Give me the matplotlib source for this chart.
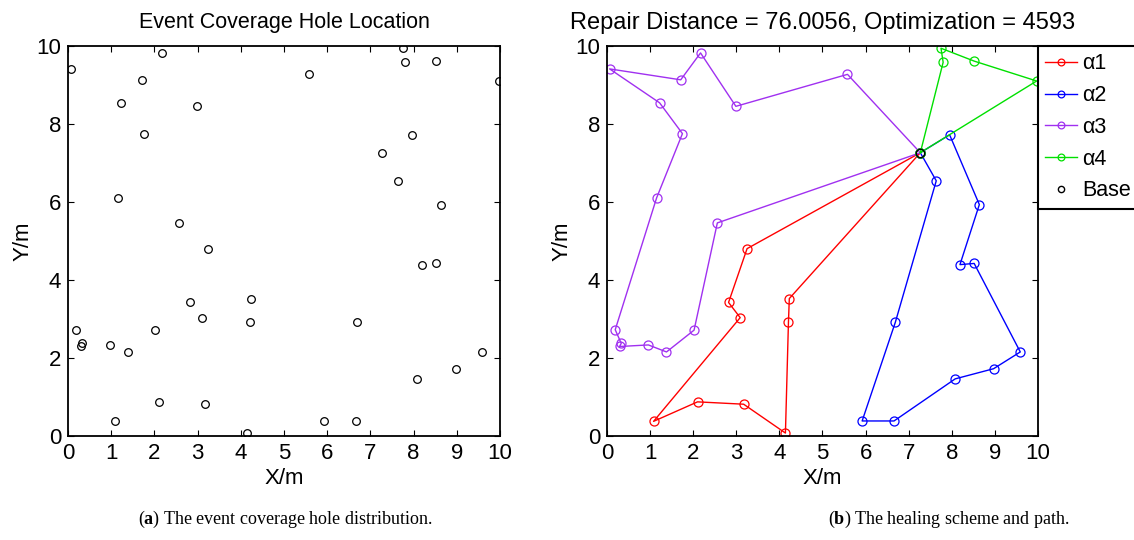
import matplotlib
matplotlib.use("Agg")
import matplotlib.pyplot as plt

plt.rcParams['font.family'] = ['Liberation Sans', 'DejaVu Sans']
plt.rcParams['mathtext.fontset'] = 'custom'
plt.rcParams['mathtext.rm'] = 'Liberation Serif'
plt.rcParams['mathtext.bf'] = 'Liberation Serif:bold'

# base station
base = (7.27, 7.26)

# healing paths (without the base at the ends)
a1_x = [3.25, 2.82, 3.09, 1.08, 2.10, 3.17, 4.14, 4.21, 4.23]
a1_y = [4.80, 3.42, 3.03, 0.37, 0.87, 0.81, 0.07, 2.91, 3.52]

a2_x = [7.64, 6.69, 5.92, 6.66, 8.08, 8.97, 9.59, 8.52, 8.19, 8.64, 7.95]
a2_y = [6.54, 2.91, 0.38, 0.38, 1.46, 1.72, 2.15, 4.42, 4.39, 5.93, 7.72]

a3_x = [5.58, 2.99, 2.17, 1.71, 0.06, 1.22, 1.75, 1.15, 0.19, 0.33, 0.29, 0.96, 1.38, 2.02, 2.56]
a3_y = [9.27, 8.45, 9.82, 9.13, 9.41, 8.54, 7.75, 6.10, 2.72, 2.37, 2.29, 2.33, 2.15, 2.71, 5.46]

a4_x = [7.80, 7.75, 8.52, 9.97]
a4_y = [9.58, 9.94, 9.61, 9.10]

labels = ["α1", "α2", "α3", "α4"]
colors = ["#ff0000", "#0000ff", "#a030f0", "#00e000"]
paths = [(a1_x, a1_y), (a2_x, a2_y), (a3_x, a3_y), (a4_x, a4_y)]

# all hole locations (left panel)
holes_x = a1_x + a2_x + a3_x + a4_x + [base[0]]
holes_y = a1_y + a2_y + a3_y + a4_y + [base[1]]

fig = plt.figure(figsize=(11.34, 5.4), dpi=100)
ax1 = fig.add_axes([0.060, 0.193, 0.381, 0.722])
ax2 = fig.add_axes([0.5353, 0.193, 0.380, 0.722])

ax1.plot(holes_x, holes_y, "o", mfc="none", mec="k", ms=5.5, mew=0.9)
ax1.set_title("Event Coverage Hole Location", fontsize=15.5, pad=13)

for (px, py), lab, c in zip(paths, labels, colors):
    xs = [base[0]] + px + [base[0]]
    ys = [base[1]] + py + [base[1]]
    ax2.plot(xs, ys, "-o", color=c, mfc="none", ms=6.5, lw=1, mew=0.9, label=lab)
ax2.plot([base[0]], [base[1]], "o", mfc="none", mec="k", ms=6, mew=1.0, label="Base")
ax2.set_title("Repair Distance = 76.0056, Optimization = 4593", fontsize=17, pad=12)

leg = ax2.legend(loc="upper left", bbox_to_anchor=(1.0, 1.0), borderaxespad=0,
                 fontsize=15.5, fancybox=False, edgecolor="k", framealpha=1,
                 handlelength=1.45, handletextpad=0.25, labelspacing=0.5,
                 borderpad=0.35, markerscale=0.75)
leg.get_frame().set_linewidth(1.5)

for ax in (ax1, ax2):
    ax.set_xlim(0, 10)
    ax.set_ylim(0, 10)
    ax.set_xticks(range(0, 11))
    ax.set_yticks(range(0, 11, 2))
    ax.tick_params(direction="in", top=True, right=True, labelsize=16, length=4, pad=5)
    for s in ax.spines.values():
        s.set_linewidth(1.3)
    ax.set_xlabel("X/m", fontsize=16, labelpad=3)
    ax.set_ylabel("Y/m", fontsize=16, labelpad=2)

fig.text(0.252, 0.030, r"($\mathbf{a}$) The event coverage hole distribution.", fontsize=13,
         family='Liberation Serif', ha="center")
fig.text(0.837, 0.030, r"($\mathbf{b}$) The healing scheme and path.", fontsize=13,
         family='Liberation Serif', ha="center")

fig.savefig("out.png", dpi=100)
